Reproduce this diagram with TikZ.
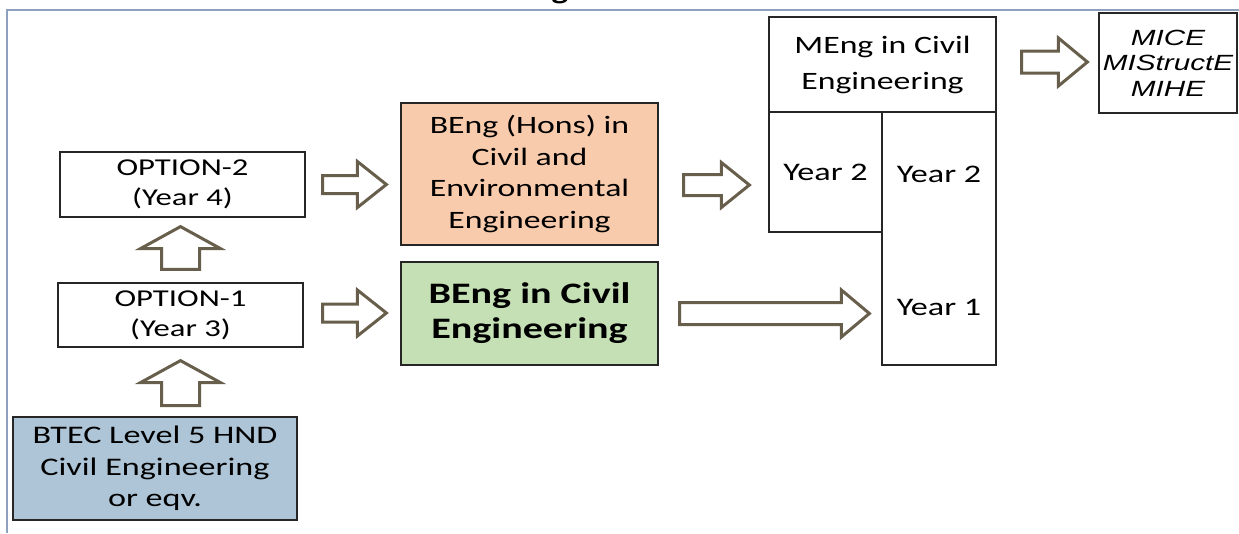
\documentclass[tikz,border=0pt]{standalone}
\usepackage{fontspec}
\setmainfont[FakeStretch=1.35]{Carlito}
\newfontfamily\arialf[FakeStretch=1.35]{Liberation Sans}
\usetikzlibrary{calc}
\definecolor{arrowc}{RGB}{104,94,76}
\definecolor{framec}{RGB}{141,160,190}
\definecolor{honsc}{RGB}{248,203,173}
\definecolor{bengc}{RGB}{197,224,180}
\definecolor{btecc}{RGB}{174,197,215}
\tikzset{
  box/.style={draw=black!85, line width=1.2pt, inner sep=0pt, align=center},
  blk/.style={draw=arrowc, fill=white, line width=3pt, line join=miter},
  frameline/.style={draw=framec, line width=2.5pt},
}
\newcommand\harr[5]{\draw[blk] let \p1=(#1),\p2=(#2) in (\x1,\y1+#3pt) -- (\x2-#5pt,\y1+#3pt) -- (\x2-#5pt,\y1+#4pt) -- (\x2,\y1) -- (\x2-#5pt,\y1-#4pt) -- (\x2-#5pt,\y1-#3pt) -- (\x1,\y1-#3pt) -- cycle;}
\newcommand\varr[5]{\draw[blk] let \p1=(#1),\p2=(#2) in (\x1-#3pt,\y1) -- (\x1-#3pt,\y2-#5pt) -- (\x1-#4pt,\y2-#5pt) -- (\x1,\y2) -- (\x1+#4pt,\y2-#5pt) -- (\x1+#3pt,\y2-#5pt) -- (\x1+#3pt,\y1) -- cycle;}
\begin{document}
\begin{tikzpicture}[x=1pt,y=-1pt]
\useasboundingbox (0,0) rectangle (1239,533);
% frame
\coordinate (ftl) at (7,10);
\coordinate (ftr) at (1239,10);
\coordinate (fbl) at (7,533);
\draw[frameline] (ftr) -- (ftl) -- (fbl);
\node[anchor=base, font=\bfseries\fontsize{26}{30}\selectfont] (ttl) at (560,-1) {g};
% boxes
\node[box, minimum width=227, minimum height=95, font=\fontsize{25}{36}\selectfont] (meng) at (882.5,64.5) {MEng in Civil\\Engineering};
\node[box, minimum width=113, minimum height=120, font=\fontsize{25.3}{30}\selectfont] (y2a) at (825.5,172) {Year 2};
\node[box, minimum width=114, minimum height=253] (ycol) at (939,238.5) {};
\node[font=\fontsize{25.3}{30}\selectfont] (y2b) at (939,174) {Year 2};
\node[font=\fontsize{25.3}{30}\selectfont] (y1) at (939,307) {Year 1};
\node[box, minimum width=138, minimum height=100, font=\arialf\itshape\fontsize{22}{25.5}\selectfont] (mice) at (1168,63) {MICE\\MIStructE\\MIHE};
\node[box, fill=honsc, minimum width=257, minimum height=142, font=\fontsize{25}{31.7}\selectfont] (hons) at (529.5,174) {BEng (Hons) in\\Civil and\\Environmental\\Engineering};
\node[box, fill=bengc, minimum width=257, minimum height=103, font=\bfseries\fontsize{29.7}{35}\selectfont] (beng) at (529.5,313.5) {BEng in Civil\\Engineering};
\node[box, minimum width=245, minimum height=65, font=\fontsize{24.2}{30}\selectfont] (opt2) at (182.5,184.5) {OPTION-2\\(Year 4)};
\node[box, minimum width=245, minimum height=64, font=\fontsize{24.2}{30}\selectfont] (opt1) at (180.5,315) {OPTION-1\\(Year 3)};
\node[box, fill=btecc, minimum width=284, minimum height=103, font=\fontsize{25.3}{31.5}\selectfont] (btec) at (155,468.5) {BTEC Level 5 HND\\Civil Engineering\\or eqv.};
% block arrows
\harr{$(opt2.east)+(17,0)$}{$(hons.west)+(-14,0)$}{9}{23}{29}
\harr{$(opt1.east)+(19,-2)$}{$(beng.west)+(-14,0)$}{9}{23}{29}
\harr{$(hons.east)+(25,11)$}{$(y2a.west)+(-19,0)$}{10.5}{22.5}{28}
\harr{$(beng.east)+(21,0)$}{$(ycol.west)+(-12,0)$}{11}{23.5}{28}
\harr{$(meng.east)+(25,-2.5)$}{$(mice.west)+(-11,0)$}{11}{24}{29}
\varr{$(opt1.north)+(0,-13)$}{$(opt2.south)+(0,9)$}{19}{40}{22}
\varr{$(opt1.south)+(0,58)$}{$(opt1.south)+(0,13)$}{19}{40}{22}
\end{tikzpicture}
\end{document}
